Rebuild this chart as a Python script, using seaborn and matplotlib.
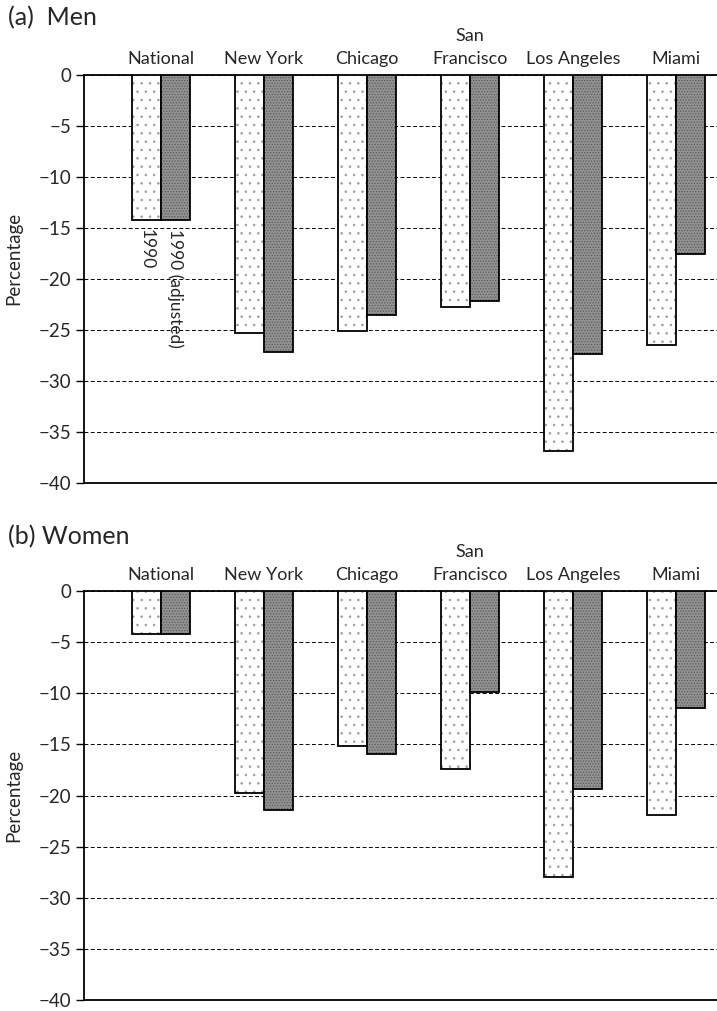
import matplotlib
matplotlib.use("Agg")
import matplotlib.pyplot as plt
import seaborn as sns
import pandas as pd

# ---- data ----
categories = ["National", "New York", "Chicago", "San\nFrancisco", "Los Angeles", "Miami"]
series = ["1990", "1990 (adjusted)"]
men_1990 = [-14.2, -25.3, -25.1, -22.7, -36.9, -26.5]
men_adj = [-14.2, -27.2, -23.5, -22.2, -27.4, -17.5]
women_1990 = [-4.2, -19.8, -15.2, -17.4, -28.0, -21.9]
women_adj = [-4.2, -21.4, -15.9, -9.9, -19.4, -11.4]
yticks = [0, -5, -10, -15, -20, -25, -30, -35, -40]
panel_titles = ["(a)  Men", "(b) Women"]

sns.set_theme(style="white")
plt.rcParams["font.family"] = ["Lato", "DejaVu Sans"]
plt.rcParams["hatch.linewidth"] = 0.6

fig = plt.figure(figsize=(7.17, 10.11), dpi=100)
ax_top = fig.add_axes([0.117, 1 - 483 / 1011, 0.883, 408 / 1011])
ax_bot = fig.add_axes([0.117, 1 - 1000 / 1011, 0.883, 409 / 1011])


def make_df(v1, v2):
    rows = []
    for c, a in zip(categories, v1):
        rows.append({"cat": c, "Series": series[0], "val": a})
    for c, b in zip(categories, v2):
        rows.append({"cat": c, "Series": series[1], "val": b})
    return pd.DataFrame(rows)


def draw(ax, v1, v2, annotate, ylab_y):
    df = make_df(v1, v2)
    sns.barplot(data=df, x="cat", y="val", hue="Series", order=categories,
                hue_order=series, palette=["white", "#8e8e8e"], width=0.56,
                legend=False, ax=ax, saturation=1, zorder=3)
    n = len(categories)
    for i, p in enumerate(ax.patches):
        p.set_edgecolor("black")
        p.set_linewidth(1.3)
        if i < n:
            p.set_facecolor("white")
            p.set_hatch("..")
            p._hatch_color = (0.62, 0.62, 0.62, 1.0)
        else:
            p.set_facecolor("#929292")
            p.set_hatch("......")
            p._hatch_color = (0.35, 0.35, 0.35, 1.0)
    ax.set_ylim(-40, 0)
    ax.set_xlim(-0.75, 5.40)
    ax.set_yticks(yticks)
    ax.set_yticklabels([("\u2212" + str(abs(t))) if t < 0 else str(t) for t in yticks])
    ax.yaxis.grid(True, linestyle=(0, (4, 2.5)), color="black", linewidth=0.7)
    ax.set_axisbelow(True)
    ax.xaxis.tick_top()
    ax.tick_params(axis="x", length=0, pad=6, labelsize=13)
    ax.tick_params(axis="y", left=True, length=6, width=1, color="black",
                   labelsize=13.5, pad=3)
    ax.set_xlabel("")
    ax.set_ylabel("Percentage", fontsize=13.5)
    ax.yaxis.set_label_coords(-0.098, ylab_y)
    for s in ["top", "left", "bottom"]:
        ax.spines[s].set_visible(True)
        ax.spines[s].set_color("black")
        ax.spines[s].set_linewidth(1.3)
    ax.spines["right"].set_visible(False)
    for lbl in ax.get_xticklabels():
        lbl.set_linespacing(1.5)
    if annotate:
        ax.text(0 - 0.14, v1[0] - 0.9, series[0], rotation=270, ha="center",
                va="top", fontsize=12.5, zorder=5)
        ax.text(0 + 0.14, v2[0] - 0.9, series[1], rotation=270, ha="center",
                va="top", fontsize=12.5, zorder=5)


draw(ax_top, men_1990, men_adj, True, 0.55)
draw(ax_bot, women_1990, women_adj, False, 0.5)

fig.text(0.011, 1 - 18 / 1011, panel_titles[0], fontsize=18, va="center", ha="left")
fig.text(0.011, 1 - 537 / 1011, panel_titles[1], fontsize=18, va="center", ha="left")

fig.savefig("out.png", dpi=100)
